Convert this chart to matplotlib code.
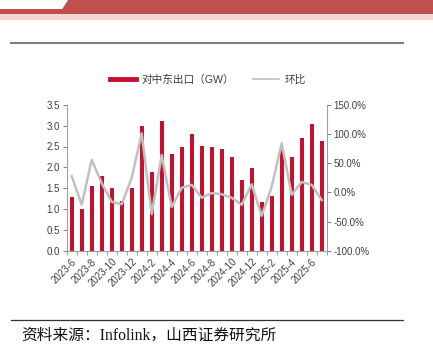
import matplotlib.pyplot as plt
from matplotlib.patches import Polygon, Rectangle
from matplotlib.lines import Line2D

months = ["2023-6", "2023-7", "2023-8", "2023-9", "2023-10", "2023-11", "2023-12",
          "2024-1", "2024-2", "2024-3", "2024-4", "2024-5", "2024-6", "2024-7",
          "2024-8", "2024-9", "2024-10", "2024-11", "2024-12",
          "2025-1", "2025-2", "2025-3", "2025-4", "2025-5", "2025-6", "2025-7"]
exports_gw = [1.30, 1.00, 1.55, 1.80, 1.50, 1.20, 1.50,
              3.00, 1.90, 3.10, 2.32, 2.50, 2.80, 2.52,
              2.50, 2.43, 2.24, 1.70, 1.98,
              1.17, 1.32, 2.45, 2.26, 2.70, 3.05, 2.63]
mom_pct = [28, -21, 56, 16, -16, -20, 25,
           101, -37, 64, -25, 8, 13, -9,
           -1, -3, -9, -21, 14,
           -40, 10, 84, -4, 18, 13, -13]

BAR_RED = "#C8102E"
LINE_GRAY = "#C0C0C0"
TEXT = "#404040"

plt.rcParams["font.family"] = ["Liberation Sans", "Noto Sans CJK SC"]

fig = plt.figure(figsize=(4.33, 3.5), dpi=100)

# header band
W, H = 433.0, 350.0
def fx(x):
    return x / W
def fy(y):
    return 1 - y / H
fig.patches.append(Rectangle((0, fy(20)), 1, 6 / H, transform=fig.transFigure,
                             color="#F4D6D5", lw=0))
fig.patches.append(Rectangle((0, fy(14)), 1, 5 / H, transform=fig.transFigure,
                             color="#C0504D", lw=0))
fig.patches.append(Polygon([(fx(62), fy(9.5)), (fx(68), fy(0)), (1, fy(0)), (1, fy(9.5))],
                           closed=True, transform=fig.transFigure, color="#C0504D", lw=0))
fig.lines.append(Line2D([fx(11), fx(403)], [fy(43), fy(43)], transform=fig.transFigure,
                        color="#7F7F7F", lw=1.5))
fig.lines.append(Line2D([fx(11), fx(403)], [fy(320), fy(320)], transform=fig.transFigure,
                        color="#333333", lw=0.9))
fig.text(fx(21), fy(336), "资料来源：Infolink，山西证券研究所", fontsize=11.3,
         family=["Liberation Serif", "Noto Sans CJK SC"], color="#111111", va="center")

ax = fig.add_axes([66.7 / W, 1 - 251 / H, 260 / W, 146.3 / H])
x = list(range(len(months)))
ax.bar(x, exports_gw, width=0.38, color=BAR_RED, zorder=2)
ax.set_xlim(-0.5, len(months) - 0.5)
ax.set_ylim(0, 3.5)
ax.set_yticks([i * 0.5 for i in range(8)])
ax.set_yticklabels([f"{i * 0.5:.1f}" for i in range(8)])

ax2 = ax.twinx()
ax2.plot(x, mom_pct, color=LINE_GRAY, lw=1.8, zorder=3)
ax2.set_ylim(-100, 150)
ax2.set_yticks(range(-100, 151, 50))
ax2.set_yticklabels([f"{v:.1f}%" for v in range(-100, 151, 50)])

ax.set_xticks([i - 0.5 for i in range(len(months) + 1)], minor=True)
ax.set_xticks(x[::2])
ax.set_xticklabels(months[::2], rotation=45, ha="right", rotation_mode="anchor")
ax.tick_params(axis="x", which="major", length=0, pad=4, labelsize=7, labelcolor=TEXT)
ax.tick_params(axis="x", which="minor", length=3, color="#A0A0A0", width=0.7)
ax.tick_params(axis="y", length=3, color="#808080", width=0.7, labelsize=7,
               labelcolor=TEXT, pad=2)
ax2.tick_params(axis="y", length=3, color="#808080", width=0.7, labelsize=7,
                labelcolor=TEXT, pad=2)

for a in (ax, ax2):
    a.spines["top"].set_visible(False)
    for s in ("left", "right", "bottom"):
        a.spines[s].set_color("#A0A0A0")
        a.spines[s].set_linewidth(0.8)
ax.spines["right"].set_visible(False)
ax2.spines["left"].set_visible(False)
ax2.spines["bottom"].set_visible(False)

handles = [Line2D([], [], color=BAR_RED, lw=3.5),
           Line2D([], [], color=LINE_GRAY, lw=1.2)]
fig.legend(handles, ["对中东出口（GW）", "环比"], loc="center",
           bbox_to_anchor=(fx(208), fy(80)), ncol=2, frameon=False,
           fontsize=7.7, handlelength=2.4, handletextpad=0.5, columnspacing=1.8,
           labelcolor=TEXT)

fig.savefig("out.png", dpi=100)
